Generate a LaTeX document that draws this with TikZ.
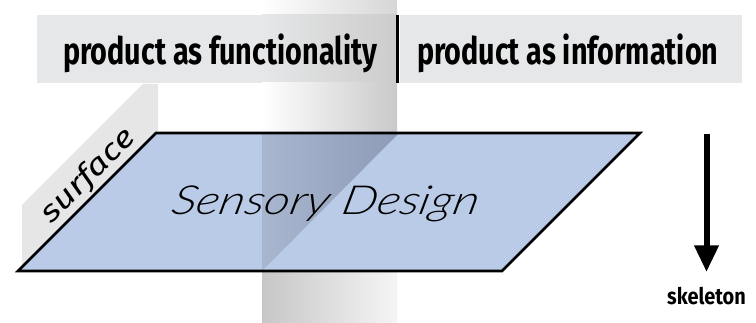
\documentclass[tikz,border=0pt]{standalone}
\usepackage{fontspec}
\usepackage{graphicx}
\setmainfont{Fira Sans}
\newfontfamily\banfont{Fira Sans}
\newfontfamily\sensfont{Lato Light Italic}[FakeSlant=0.18]
\usetikzlibrary{arrows.meta}
\definecolor{bannergray}{HTML}{E6E7E8}
\definecolor{wallgray}{HTML}{E6E6E7}
\definecolor{planeblue}{HTML}{BACBE8}
\definecolor{darkA}{HTML}{A9B6D0}
\definecolor{darkB}{HTML}{8E9BB6}
\tikzset{
  txt/.style={inner sep=0pt, outer sep=0pt},
}
\begin{document}
\begin{tikzpicture}[x=0.75pt,y=-0.75pt]
\useasboundingbox (0,0) rectangle (756,323);
% vertical band above the plane
\shade[left color=white, right color=black!16] (262,0) rectangle (397,15);
\fill[bannergray] (37,15) rectangle (397,83);
\shade[left color=bannergray, right color=black!20] (262,15) rectangle (397,83);
\shade[left color=white, right color=black!21] (262,83) rectangle (397,133);
% right banner and separator
\fill[bannergray] (400,15) rectangle (742,83);
\coordinate (septop) at (397.5,15);
\coordinate (sepbot) at (397.5,83);
\draw[line width=2.2pt] (septop) -- (sepbot);
% band below the plane
\shade[left color=black!22, right color=black!4] (262,271) rectangle (397,323);
% surface wall
\fill[wallgray] (22,267) -- (22,205) -- (143,84) -- (158,84) -- (158,131) -- cycle;
% plane
\fill[planeblue] (18,271) -- (156,133) -- (640,133) -- (502,271) -- cycle;
\shade[left color=darkA, right color=darkB] (262,133) -- (399,133) -- (262,271) -- cycle;
\draw[line width=1.9pt, line join=miter] (18,271) -- (156,133) -- (640,133) -- (502,271) -- cycle;
% texts
\node[txt, anchor=base west] (pf) at (63,65) {\resizebox{235.5pt}{23pt}{\banfont\bfseries product as functionality}};
\node[txt, anchor=base west] (pi) at (417,65) {\resizebox{226pt}{23pt}{\banfont\bfseries product as information}};
\node[txt, anchor=base west] (sd) at (170,215) {\resizebox{230pt}{21.5pt}{\sensfont Sensory Design}};
\node[txt, anchor=base, rotate=45] (surf) at (94,182) {\resizebox{90pt}{16.5pt}{\banfont\itshape surface}};
% arrow
\coordinate (atop) at (706.5,134);
\coordinate (abot) at (706.5,272);
\draw[line width=4.5pt, -{Triangle[width=17.5pt,length=20pt]}] (atop) -- (abot);
\node[txt, anchor=base] (skel) at (706.5,305) {\resizebox{59pt}{13pt}{\banfont\bfseries skeleton}};
\end{tikzpicture}
\end{document}
